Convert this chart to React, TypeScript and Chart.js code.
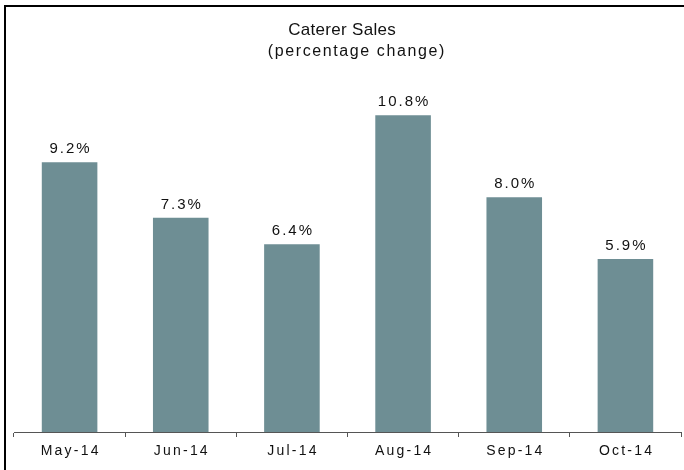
import React, { useEffect, useRef } from "react";
import { Chart, registerables } from "chart.js";

Chart.register(...registerables);

const categories = ["May-14", "Jun-14", "Jul-14", "Aug-14", "Sep-14", "Oct-14"];
const values = [9.2, 7.3, 6.4, 10.8, 8.0, 5.9];
const titleText = "Caterer Sales";
const subtitleText = "(percentage change)";

const FONT = "'Liberation Sans', Arial, sans-serif";

function drawSpaced(ctx: any, text: string, x: number, y: number, spacing: number) {
  ctx.letterSpacing = spacing + "px";
  const w = ctx.measureText(text).width - spacing;
  ctx.textAlign = "left";
  ctx.fillText(text, x - w / 2, y);
  ctx.letterSpacing = "0px";
}

const customText = {
  id: "customText",
  afterDraw(chart: any) {
    const ctx = chart.ctx;
    const meta = chart.getDatasetMeta(0);
    const xScale = chart.scales.x;
    ctx.save();
    ctx.fillStyle = "#111";
    ctx.textBaseline = "middle";
    // title & subtitle
    ctx.font = `17px ${FONT}`;
    drawSpaced(ctx, titleText, chart.width / 2, 30, 0.3);
    ctx.font = `16px ${FONT}`;
    drawSpaced(ctx, subtitleText, chart.width / 2 + 14, 52, 1.6);
    // value labels
    ctx.font = `15px ${FONT}`;
    meta.data.forEach((bar: any, i: number) => {
      const v = chart.data.datasets[0].data[i] as number;
      drawSpaced(ctx, v.toFixed(1) + "%", bar.x, bar.y - 13, 2);
    });
    // x tick labels
    ctx.font = `14px ${FONT}`;
    ctx.textBaseline = "alphabetic";
    categories.forEach((c, i) => {
      const x = xScale.getPixelForValue(i);
      drawSpaced(ctx, c, x, 455, 2.2);
    });
    ctx.restore();
  },
};

export default function App() {
  const ref = useRef<HTMLCanvasElement>(null);
  useEffect(() => {
    if (!ref.current) return;
    const chart = new Chart(ref.current, {
      type: "bar",
      data: {
        labels: categories,
        datasets: [
          {
            data: values,
            backgroundColor: "#6E8E94",
            barPercentage: 0.5,
            categoryPercentage: 1.0,
          },
        ],
      },
      options: {
        animation: false,
        responsive: false,
        maintainAspectRatio: false,
        layout: { padding: { left: 14, right: 3, top: 80, bottom: 33 } },
        plugins: {
          legend: { display: false },
          tooltip: { enabled: false },
          title: { display: false },
        },
        scales: {
          x: {
            grid: {
              display: true,
              drawOnChartArea: false,
              drawTicks: true,
              tickLength: 5,
              color: "#555",
              offset: true,
            },
            border: { display: true, color: "#555", width: 1 },
            ticks: { display: false },
          },
          y: {
            display: false,
            min: 0,
            max: 12,
          },
        },
      },
      plugins: [customText],
    });
    return () => chart.destroy();
  }, []);

  return (
    <div style={{ position: "absolute", left: 0, top: 0, width: 684, height: 470, overflow: "hidden", background: "#fff" }}>
      <div
        style={{
          position: "absolute",
          left: 4,
          top: 5,
          width: 700,
          height: 500,
          borderTop: "2px solid #000",
          borderLeft: "2px solid #000",
        }}
      />
      <canvas ref={ref} width={684} height={470} style={{ position: "absolute", left: 0, top: 0 }} />
    </div>
  );
}
